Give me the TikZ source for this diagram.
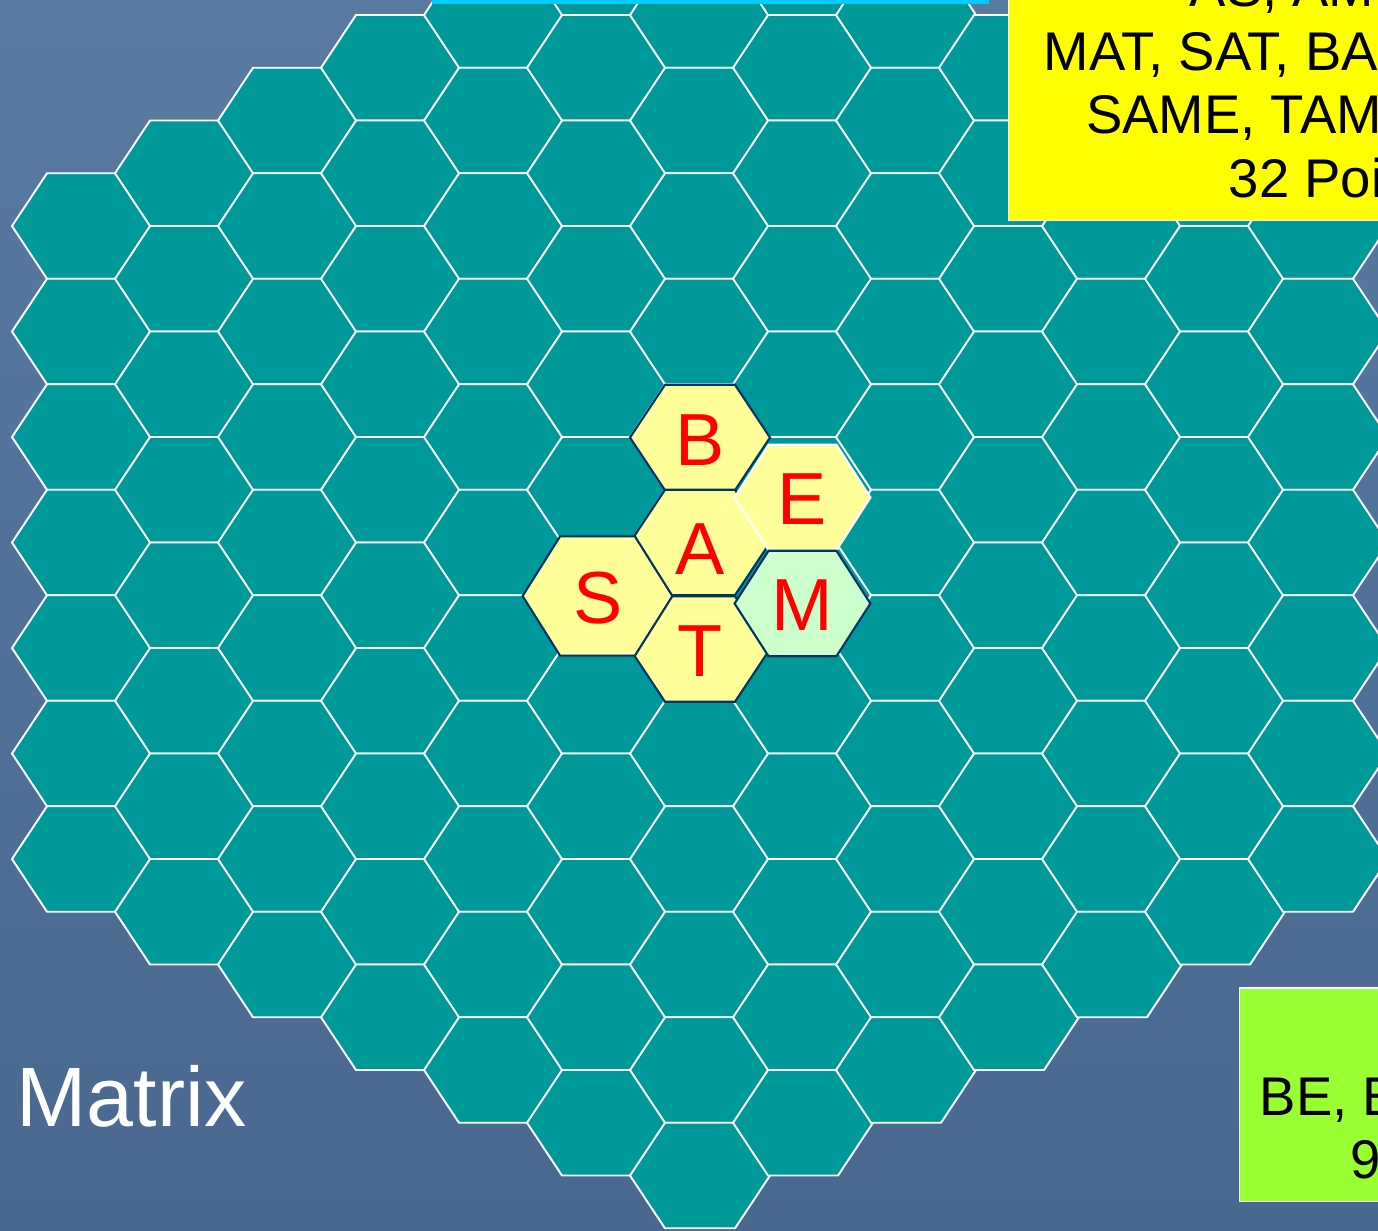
\documentclass[tikz,border=0pt]{standalone}
\usepackage{fontspec}
\setmainfont{Liberation Sans}
\usepackage{xcolor}
\usetikzlibrary{
    positioning,
    calc
}
\tikzset{
  hexcell/.pic   = {\path[pic actions] (-70,0) -- (-35,-52.75) -- (35,-52.75)
                    -- (70,0) -- (35,52.75) -- (-35,52.75) -- cycle;},
  cell/.style    = {fill=boardteal, draw=white, line width=0.55pt},
  tile/.style    = {fill=tileyellow, draw=tileedge, line width=0.6pt},
  letter/.style  = {text=red, inner sep=0pt,
                    font=\fontsize{21}{21}\selectfont},
  scorebox/.style = {draw=white, line width=0.5pt},
  scoreline/.style = {anchor=base west, inner sep=0pt,
                    font=\fontsize{15.5}{18}\selectfont}
}
\definecolor{boardteal}{RGB}{0,153,153}
\definecolor{tileyellow}{RGB}{255,255,153}
\definecolor{tilegreen}{RGB}{204,255,204}
\definecolor{tileedge}{RGB}{0,51,102}
\definecolor{slidetop}{RGB}{88,122,161}
\definecolor{slidebottom}{RGB}{73,104,144}
\definecolor{notecyan}{RGB}{0,204,255}
\definecolor{scoreyellow}{RGB}{255,255,0}
\definecolor{scoregreen}{RGB}{153,255,51}

\begin{document}
\begin{tikzpicture}[x=0.1mm, y=-0.1mm]
  \useasboundingbox (0,0) rectangle (1378,1230);
  \clip (0,0) rectangle (1378,1230);
  \shade[top color=slidetop, bottom color=slidebottom] (0,0) rectangle (1378,1230);

  \foreach \q in {-6,...,6}{
    \pgfmathtruncatemacro{\rlo}{max(-6,-6-(\q))}
    \pgfmathtruncatemacro{\rhi}{min(6,6-(\q))}
    \foreach \r in {\rlo,...,\rhi}{
      \pic[cell] at ({700+\q*103},{542.5+(\r+\q/2)*105.5}) {hexcell};
    }
  }

  \pic[tile] at (700,437.5) {hexcell};
  \pic[tile] at (700,542.5) {hexcell};
  \pic[tile] at (700,649) {hexcell};
  \pic[tile, draw=white, xscale=0.97] at (802.5,497.5) {hexcell};
  \pic[tile, fill=tilegreen, xscale=0.97] at (802.5,603.5) {hexcell};
  \pic[tile, xscale=1.07, yscale=1.13] at (597.5,596) {hexcell};

  \node[letter] (b) at (700,440) {B};
  \node[letter] (a) at (700,549) {A};
  \node[letter] (s) at (598,598) {S};
  \node[letter] (t) at (700,651) {T};
  \node[letter] (e) at (802,499.5) {E};
  \node[letter] (m) at (802,605.5) {M};

  \fill[notecyan] (432,-20) rectangle (989,3.5);

  \draw[scorebox, fill=scoreyellow] (1008.5,-20) rectangle (1400,220.5);
  \node[scoreline] (found1) at (1189,6.5) {AS, AM,};
  \node[scoreline] (found2) at (1043,70) {MAT, SAT, BA};
  \node[scoreline] (found3) at (1085.5,133.5) {SAME, TAM};
  \node[scoreline] (found4) at (1228,197) {32 Poi};

  \draw[scorebox, fill=scoregreen] (1239.5,988) rectangle (1400,1201.5);
  \node[scoreline] (other1) at (1259,1115) {BE, E};
  \node[scoreline] (other2) at (1350,1178) {9};

  \node[anchor=base west, inner sep=0pt, text=white,
        font=\fontsize{24}{24}\selectfont] (title) at (16,1126) {Matrix};
\end{tikzpicture}
\end{document}
